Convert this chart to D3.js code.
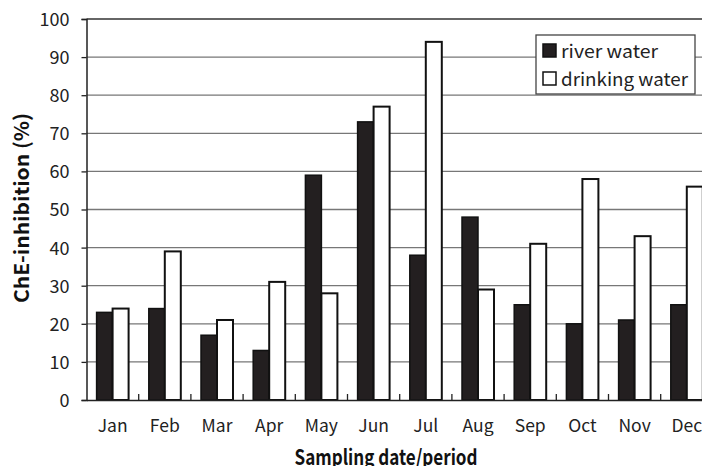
<!DOCTYPE html>
<html><head><meta charset="utf-8">
<script src="https://cdn.jsdelivr.net/npm/d3@7"></script>
<style>body{margin:0;background:#fff}svg{display:block}text{font-family:"Noto Sans CJK JP","Liberation Sans",sans-serif}</style>
</head><body><svg id="c" width="702" height="466"></svg>
<script>
const months = ["Jan","Feb","Mar","Apr","May","Jun","Jul","Aug","Sep","Oct","Nov","Dec"];
const riverWater = [23,24,17,13,59,73,38,48,25,20,21,25];
const drinkingWater = [24,39,21,31,28,77,94,29,41,58,43,56];
const yTicks = [0,10,20,30,40,50,60,70,80,90,100];
const seriesNames = ["river water","drinking water"];

const svg = d3.select("#c");
const L = 86.5, T = 19, B = 400, bandW = 52.2;
const x = d3.scaleBand().domain(months).range([L, L + bandW*12]).paddingInner(0).paddingOuter(0);
const y = d3.scaleLinear().domain([0,100]).range([B, T]);
const barW = 16;

// gridlines
svg.append("g").selectAll("line").data(yTicks.filter(d=>d>0)).join("line")
  .attr("x1", L).attr("x2", 702).attr("y1", d=>y(d)).attr("y2", d=>y(d))
  .attr("stroke", d=>d===100?"#333":"#777").attr("stroke-width",1.3);

// y axis
const ya = svg.append("g").attr("transform",`translate(${L},0)`)
  .call(d3.axisLeft(y).tickValues(yTicks).tickSize(5).tickPadding(12));
ya.select(".domain").attr("stroke","#222").attr("stroke-width",1.5);
ya.selectAll(".tick line").attr("stroke","#222").attr("stroke-width",1.3);
ya.selectAll("text").attr("font-size",18).attr("fill","#222").attr("dy","0.36em");

// bars
const g = svg.append("g");
g.selectAll(".r").data(months).join("rect")
  .attr("x", d=>x(d)+x.bandwidth()/2-barW).attr("width", barW)
  .attr("y", (d,i)=>y(riverWater[i])).attr("height",(d,i)=>B-y(riverWater[i]))
  .attr("fill","#231f20").attr("stroke","#111").attr("stroke-width",1.5);
g.selectAll(".w").data(months).join("rect")
  .attr("x", d=>x(d)+x.bandwidth()/2).attr("width", barW)
  .attr("y", (d,i)=>y(drinkingWater[i])).attr("height",(d,i)=>B-y(drinkingWater[i]))
  .attr("fill","#fff").attr("stroke","#111").attr("stroke-width",2);

// x axis
const xa = svg.append("g").attr("transform",`translate(0,${B})`)
  .call(d3.axisBottom(x).tickSize(0).tickPadding(20));
xa.select(".domain").attr("stroke","#222").attr("stroke-width",1.6);
xa.selectAll("text").attr("font-size",17.5).attr("fill","#222");
// separator ticks
svg.append("g").selectAll("line").data(months.slice(1)).join("line")
  .attr("x1", d=>x(d)).attr("x2", d=>x(d)).attr("y1", B).attr("y2", B-6)
  .attr("stroke","#222").attr("stroke-width",1.3);

// axis titles
svg.append("text").attr("transform",`translate(29,208) rotate(-90)`)
  .attr("text-anchor","middle").attr("font-size",20).attr("font-weight","bold").attr("fill","#111")
  .attr("textLength",190).attr("lengthAdjust","spacingAndGlyphs")
  .text("ChE-inhibition (%)");
svg.append("text").attr("x",386).attr("y",465).attr("text-anchor","middle")
  .attr("font-size",21).attr("font-weight","bold").attr("fill","#111")
  .attr("textLength",183).attr("lengthAdjust","spacingAndGlyphs").text("Sampling date/period");

// legend
const lg = svg.append("g");
lg.append("rect").attr("x",536).attr("y",35).attr("width",159).attr("height",59)
  .attr("fill","#fff").attr("stroke","#444").attr("stroke-width",1.3);
const legLen = [97,127];
seriesNames.forEach((s,i)=>{
  lg.append("rect").attr("x",543).attr("y",44+i*28).attr("width",13).attr("height",13)
    .attr("fill", i===0?"#231f20":"#fff").attr("stroke","#111").attr("stroke-width",1.5);
  lg.append("text").attr("x",561).attr("y",57.5+i*28).attr("font-size",18.5).attr("fill","#222")
    .attr("textLength",legLen[i]).attr("lengthAdjust","spacingAndGlyphs").text(s);
});
</script></body></html>
